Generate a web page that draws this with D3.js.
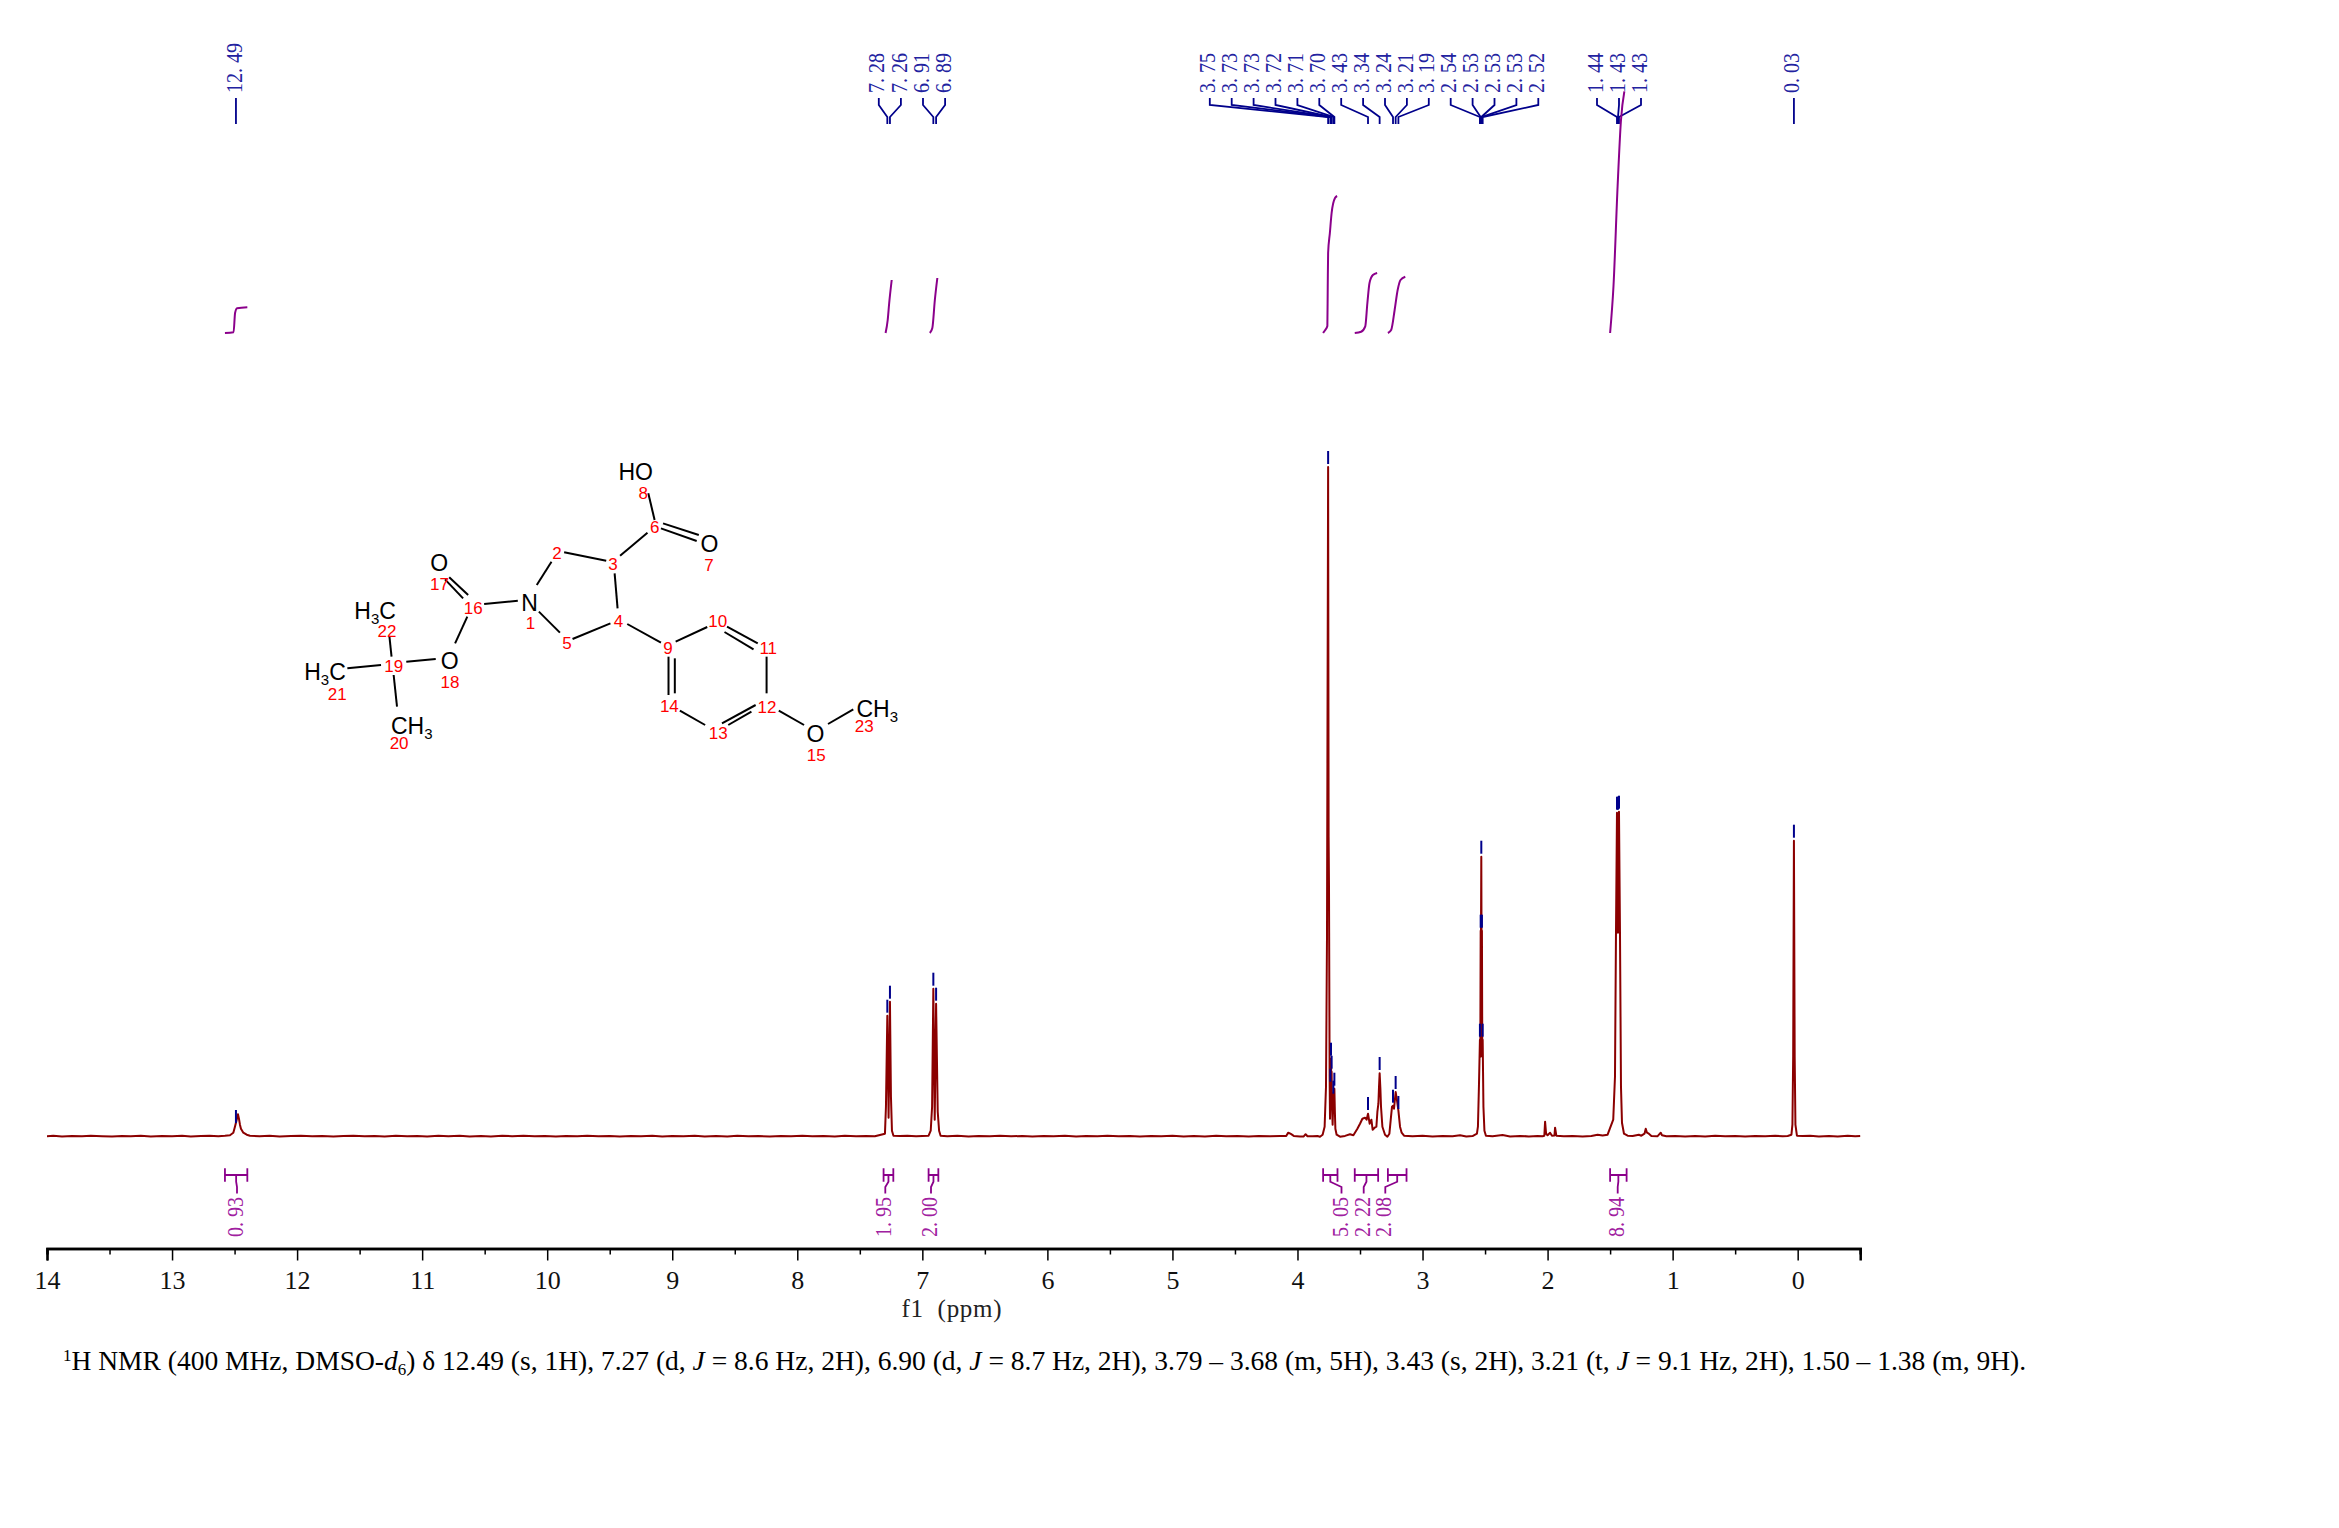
<!DOCTYPE html>
<html><head><meta charset="utf-8">
<script src="https://cdn.jsdelivr.net/npm/d3@7"></script>
<style>html,body{margin:0;background:#fff}svg{display:block}</style></head>
<body><svg id="c" width="2339" height="1528"></svg>
<script>
// ---------- DATA ----------
const axisTicks=[14,13,12,11,10,9,8,7,6,5,4,3,2,1,0];
const minorTicks=[13.5,12.5,11.5,10.5,9.5,8.5,7.5,6.5,5.5,4.5,3.5,2.5,1.5,0.5,-0.5];
// spectrum trace: [ppm, intensity]
const traceBase1=[[14,.5],[13.95,.9],[13.88,.3],[13.8,.8],[13.72,.4],[13.65,1],[13.56,.5],[13.48,.2],[13.4,.8],[13.33,.5],[13.25,1],[13.17,.3],[13.08,.7],[13,.4],[12.92,.9],[12.85,.3],[12.77,.7],[12.7,1],[12.63,.5]];
const tracePk12=[[12.577,1],[12.537,1.5],[12.51,4],[12.497,10],[12.489,14],[12.481,18],[12.473,22.5],[12.465,18],[12.457,12],[12.449,8],[12.43,4],[12.403,2],[12.377,1]];
const traceBase2=[[12.3,.5],[12.22,.9],[12.14,.3],[12.05,.7],[11.97,1],[11.88,.4],[11.8,.8],[11.71,.2],[11.63,.7],[11.55,1],[11.46,.4],[11.38,.8],[11.3,.3],[11.21,.9],[11.12,.4],[11.04,.7],[10.96,.2],[10.87,.9],[10.79,.5],[10.7,1],[10.62,.3],[10.53,.7],[10.45,.3],[10.36,.9],[10.28,.5],[10.19,1],[10.1,.4],[10.02,.7],[9.93,.2],[9.85,.8],[9.76,.4],[9.68,1],[9.59,.5],[9.5,.7],[9.42,.2],[9.33,.8],[9.25,.5],[9.16,.9],[9.08,.3],[9,.7],[8.91,.4],[8.82,1],[8.74,.3],[8.65,.7],[8.56,.3],[8.48,.9],[8.39,.5],[8.31,.7],[8.22,.2],[8.13,.8],[8.05,.4],[7.96,1],[7.88,.4],[7.79,.7],[7.7,.3],[7.62,.9],[7.53,.4],[7.45,.8],[7.38,.5]];
const traceArom=[[7.299,3],[7.291,30],[7.28,121],[7.27,19],[7.259,135],[7.251,40],[7.243,6],[7.231,1],[7.18,.6],[7.12,1],[7.05,.4],[7,.8],[6.95,1],[6.933,6],[6.922,30],[6.912,148],[6.901,17],[6.89,133],[6.877,25],[6.866,6],[6.854,1]];
const traceBase3=[[6.8,.5],[6.72,.9],[6.63,.3],[6.55,.8],[6.46,.4],[6.38,1],[6.29,.4],[6.2,.7],[6.12,.2],[6.03,.8],[5.95,.4],[5.86,.9],[5.77,.3],[5.69,.7],[5.6,.4],[5.52,1],[5.43,.4],[5.34,.7],[5.26,.2],[5.17,.8],[5.09,.5],[5,.9],[4.91,.3],[4.83,.7],[4.74,.3],[4.65,.9],[4.57,.5],[4.48,.7],[4.39,.2],[4.31,.8],[4.22,.4],[4.14,.6],[4.09,.7],[4.075,4],[4.065,3.5],[4.05,2.5],[4.03,.8],[3.98,.2],[3.95,.3],[3.935,2.5],[3.92,.5],[3.88,.4],[3.84,.7]];
const traceCluster=[[3.82,0],[3.799,2],[3.783,10],[3.772,50],[3.764,200],[3.755,669.7],[3.751,300],[3.748,250],[3.743,60],[3.74,18],[3.737,52],[3.735,40],[3.732,78],[3.729,50],[3.727,65],[3.724,30],[3.719,12],[3.713,40],[3.705,48],[3.701,25],[3.697,8],[3.687,2],[3.66,0],[3.62,.8],[3.58,2.5],[3.553,1.5],[3.521,8],[3.5,13],[3.481,18],[3.46,19],[3.447,17],[3.436,23],[3.423,13],[3.409,17],[3.399,7],[3.383,9],[3.369,10],[3.361,25],[3.353,33],[3.348,50],[3.343,63.5],[3.337,48],[3.332,30],[3.321,10],[3.3,2],[3.281,0],[3.265,3],[3.252,20],[3.244,30],[3.236,31],[3.228,28],[3.215,44.7],[3.204,36],[3.193,26],[3.18,10],[3.167,4],[3.148,1]];
const traceBase4=[[3.08,.5],[3,.9],[2.92,.3],[2.84,.7],[2.76,.4],[2.7,1.5],[2.65,.3],[2.6,.6]];
const traceSolvent=[[2.565,3],[2.557,10],[2.549,50],[2.541,97],[2.538,80],[2.535,206],[2.533,190],[2.53,280],[2.528,190],[2.525,206],[2.522,80],[2.519,97],[2.513,30],[2.505,6],[2.493,1]];
const traceBase5=[[2.44,.5],[2.36,1.6],[2.3,.3],[2.22,.8],[2.15,.3],[2.08,.7],[2.04,.5],[2.026,1],[2.02,15],[2.012,3],[2.0,1.5],[1.98,4],[1.965,1],[1.945,1.2],[1.94,9],[1.93,1],[1.87,.5],[1.8,.8],[1.72,.3],[1.65,.7],[1.6,2],[1.56,1.2],[1.52,2],[1.475,17],[1.461,60],[1.453,204],[1.445,324],[1.437,204],[1.429,325],[1.421,204],[1.413,50],[1.405,14],[1.389,3],[1.36,1],[1.32,.6],[1.27,2],[1.25,1],[1.225,3],[1.215,8],[1.205,4],[1.19,3],[1.17,.8],[1.12,.5],[1.095,4],[1.085,1.5],[1.05,.4]];
const traceBase6=[[.98,.8],[.9,.3],[.82,.7],[.74,.3],[.66,.9],[.58,.4],[.5,.7],[.42,.2],[.34,.8],[.26,.4],[.18,1],[.12,.5],[.08,.7],[.05,2],[.042,12],[.036,80],[.03,296],[.024,80],[.018,12],[.006,1],[-.04,.6],[-.1,.9],[-.17,.3],[-.25,.7],[-.32,.3],[-.4,.9],[-.46,.4],[-.5,.7]];
// picked peaks
const singleLabels=["12. 49"], singlePpm=[12.489], singleInt=[10.7];
const peakLabels=["7. 28","7. 26","6. 91","6. 89"];
const peakPpm=[7.28,7.259,6.912,6.89];
const peakInt=[121,135,148,133];
const clusterLabels=["3. 75","3. 73","3. 73","3. 72","3. 71","3. 70","3. 43","3. 34","3. 24","3. 21","3. 19","2. 54","2. 53","2. 53","2. 53","2. 52"];
const clusterPpm=[3.755,3.737,3.732,3.727,3.713,3.705,3.436,3.343,3.236,3.215,3.193,2.541,2.535,2.53,2.525,2.519];
const clusterInt=[669.7,52,78,65,40,48,23.7,63.7,31,44.7,24.7,97,206,280,206,97];
const methylLabels=["1. 44","1. 43","1. 43"];
const methylPpm=[1.445,1.437,1.429];
const methylInt=[324,324,325];
const tmsLabels=["0. 03"], tmsPpm=[.03], tmsInt=[296];
// integrals
const integralLabels=["0. 93","1. 95","2. 00","5. 05","2. 22","2. 08","8. 94"];
const integralFrom=[12.577,7.31,6.95,3.795,3.542,3.277,1.5];
const integralTo=[12.398,7.232,6.872,3.68,3.355,3.128,1.368];
const integralCurves=[
 [[12.577,0],[12.508,.7],[12.496,20],[12.48,24.7],[12.398,25.7]],
 [[7.294,0],[7.277,13],[7.265,30],[7.245,53]],
 [[6.94,0],[6.92,5],[6.9,33],[6.88,55]],
 [[3.795,0],[3.778,3],[3.761,7],[3.758,47],[3.755,80],[3.741,100],[3.727,120],[3.7,135],[3.683,137]],
 [[3.542,0],[3.491,1.3],[3.458,6.7],[3.441,30],[3.424,50],[3.397,58],[3.363,60]],
 [[3.277,0],[3.25,3.3],[3.223,23],[3.199,43],[3.176,53],[3.138,56.3]],
 [[1.5,0],[1.473,46.7],[1.44,146.7],[1.413,213],[1.386,241.7]]];
const caption=[["1","sup"],["H NMR (400 MHz, DMSO-",""],["d","i"],["6","sub"],[") δ 12.49 (s, 1H), 7.27 (d, ",""],["J","i"],[" = 8.6 Hz, 2H), 6.90 (d, ",""],["J","i"],[" = 8.7 Hz, 2H), 3.79 – 3.68 (m, 5H), 3.43 (s, 2H), 3.21 (t, ",""],["J","i"],[" = 9.1 Hz, 2H), 1.50 – 1.38 (m, 9H).",""]];
// structure (read in zoom coordinates)
const bonds=[[610,435,645,365],[675,337,775,362],[795,400,802,505],[785,550,695,597],[665,578,615,515],[808,347,873,278],[910,250,995,285],[905,265,990,303],[890,240,875,160],[825,552,905,608],[940,605,1015,561],[1062,560,1135,610],[1056,576,1125,628],[1156,650,1156,760],[1130,795,1050,850],[1120,815,1065,855],[1010,855,950,812],[923,650,923,765],[938,655,938,760],[1185,812,1245,855],[1302,852,1362,808],[565,482,485,492],[447,465,402,412],[435,475,392,418],[445,530,416,610],[370,657,300,665],[240,675,160,685],[265,650,260,590],[270,705,278,800]];
const atomLabels=[["N",593,487],["O",1020,310],["HO",845,95],["O",378,368],["O",403,660],["O",1272,880],["H|3|C",226,510],["H|3|C",107,695],["CH|3",313,855],["CH|3",1419,805]];
const atomNumbers=[[1,595,550],[2,658,338],[3,791,372],[4,804,543],[5,682,610],[6,890,260],[7,1019,375],[8,863,158],[9,922,625],[10,1040,542],[11,1160,625],[12,1157,800],[13,1041,880],[14,925,797],[15,1274,945],[16,459,503],[17,379,432],[18,404,725],[19,270,677],[20,283,910],[21,136,762],[22,254,573],[23,1388,858]];

// ---------- DRAW ----------
const svg=d3.select("#c");
const serif="'Liberation Serif','Times New Roman',serif", sans="'Liberation Sans',Arial,sans-serif";
const NAVY="#00008B",PURPLE="#8B008B",RED="#8B0000";
const x=d3.scaleLinear().domain([14,-.5]).range([47,1860.2]);
const yI=d3.scaleLinear().domain([0,669.7]).range([1136.7,467]);
const yInt=d3.scaleLinear().domain([0,241]).range([333,92]);

// axis
const axY=1248.5;
const major=d3.axisBottom(x).tickValues(axisTicks).tickSize(12).tickPadding(10).tickFormat(d3.format("d"));
const minor=d3.axisBottom(x).tickValues(minorTicks).tickSize(6).tickFormat("");
const gMin=svg.append("g").attr("transform",`translate(0,${axY})`).call(minor);
const gMaj=svg.append("g").attr("transform",`translate(0,${axY})`).call(major);
[gMin,gMaj].forEach(g=>{g.selectAll("line").attr("stroke","#000").attr("stroke-width",1.5);g.select(".domain").attr("stroke","#000").attr("stroke-width",2.5)});
gMaj.selectAll("text").attr("font-family",serif).attr("font-size",26).attr("fill","#111");
svg.append("text").attr("x",901.5).attr("y",1317).attr("font-family",serif).attr("font-size",25).attr("fill","#222").attr("textLength",100).attr("xml:space","preserve").text("f1  (ppm)");

// trace
const trace=[...traceBase1,...tracePk12,...traceBase2,...traceArom,...traceBase3,...traceCluster,...traceBase4,...traceSolvent,...traceBase5,...traceBase6];
svg.append("path").datum(trace).attr("fill","none").attr("stroke",RED).attr("stroke-width",2).attr("stroke-linejoin","round")
 .attr("d",d3.line().x(d=>x(d[0])).y(d=>yI(d[1])));

// peak markers, labels, connectors
function peakGroup(labels,ppm,ints,startX,step){
  const g=svg.append("g");
  labels.forEach((t,i)=>{
    const lx=startX+i*step,cx=lx+2.4,px=x(ppm[i]);
    const straight=labels.length===1;
    const pts=straight?[[px,98],[px,124]]:[[cx,98],[cx,105],[px,117],[px,124]];
    g.append("path").attr("d",d3.line()(pts)).attr("fill","none").attr("stroke",NAVY).attr("stroke-width",1.8);
    const m=yI(ints[i]);
    g.append("line").attr("x1",px).attr("x2",px).attr("y1",m-3).attr("y2",m-16).attr("stroke",NAVY).attr("stroke-width",2);
    g.append("text").attr("transform",`translate(${lx+8},93) rotate(-90)`).attr("font-family",serif).attr("font-size",24)
      .attr("fill","#2222a0").attr("textLength",(t.length-1)*10).attr("lengthAdjust","spacingAndGlyphs").attr("xml:space","preserve").text(t);
  });
}
peakGroup(singleLabels,singlePpm,singleInt,233.6,0);
peakGroup(peakLabels,peakPpm,peakInt,876.4,22.1);
peakGroup(clusterLabels,clusterPpm,clusterInt,1207.4,21.9);
peakGroup(methylLabels,methylPpm,methylInt,1594.6,22);
peakGroup(tmsLabels,tmsPpm,tmsInt,1791,0);

// integrals
integralCurves.forEach(c=>svg.append("path").datum(c).attr("fill","none").attr("stroke",PURPLE).attr("stroke-width",2).attr("stroke-linejoin","round")
  .attr("d",d3.line().curve(d3.curveMonotoneX).x(d=>x(d[0])).y(d=>yInt(d[1]))));
const textX=[235,883.3,929,1339.5,1361.7,1383.3,1615.7];
integralLabels.forEach((t,i)=>{
  const a=x(integralFrom[i]),b=x(integralTo[i]),c=(a+b)/2,lx=textX[i],sx=lx+2;
  const g=svg.append("g").attr("stroke",PURPLE).attr("stroke-width",1.8).attr("fill","none");
  g.append("path").attr("d",`M${a},1168.3V1181.7M${b},1168.3V1181.7M${a},1175H${b}`);
  g.append("path").attr("d",d3.line()([[c,1175],[c,1181.7],[sx,1187],[sx,1193.5]]));
  svg.append("text").attr("transform",`translate(${lx+8},1237) rotate(-90)`).attr("font-family",serif).attr("font-size",24)
    .attr("fill","#a020a0").attr("textLength",40).attr("lengthAdjust","spacingAndGlyphs").attr("xml:space","preserve").text(t);
});

// structure
const mx=d3.scaleLinear().domain([0,1568]).range([280,940]);
const my=d3.scaleLinear().domain([0,1020]).range([440,780]);
svg.append("g").selectAll("line").data(bonds).join("line")
  .attr("x1",d=>mx(d[0])).attr("y1",d=>my(d[1])).attr("x2",d=>mx(d[2])).attr("y2",d=>my(d[3]))
  .attr("stroke","#000").attr("stroke-width",2);
atomLabels.forEach(([t,ax,ay])=>{
  const el=svg.append("text").attr("x",mx(ax)).attr("y",my(ay)+8.5).attr("text-anchor","middle").attr("font-family",sans).attr("font-size",23).attr("fill","#000");
  const p=t.split("|");
  if(p.length===1) el.text(t);
  else { el.append("tspan").text(p[0]); el.append("tspan").attr("font-size",15).attr("dy",5).text(p[1]);
         if(p[2]) el.append("tspan").attr("dy",-5).text(p[2]); }
});
svg.append("g").selectAll("text").data(atomNumbers).join("text")
  .attr("x",d=>mx(d[1])).attr("y",d=>my(d[2])+6).attr("text-anchor","middle").attr("font-family",sans).attr("font-size",17).attr("fill","#f00").text(d=>d[0]);

// caption
const cap=svg.append("text").attr("x",63).attr("y",1370).attr("font-family",serif).attr("font-size",27.5).attr("fill","#000").attr("xml:space","preserve");
caption.forEach(([t,k])=>{
  const s=cap.append("tspan").text(t);
  if(k==="i") s.attr("font-style","italic");
});
// sup / sub positions applied with relative shifts
cap.selectAll("tspan").each(function(d,i){
  const k=caption[i][1], s=d3.select(this), prev=i?caption[i-1][1]:"";
  let dy=0;
  if(k==="sup"){dy=-9;s.attr("font-size",17);}
  if(k==="sub"){dy=5;s.attr("font-size",17);}
  if(prev==="sup")dy+=9;
  if(prev==="sub")dy-=5;
  if(dy)s.attr("dy",dy);
});
</script></body></html>
